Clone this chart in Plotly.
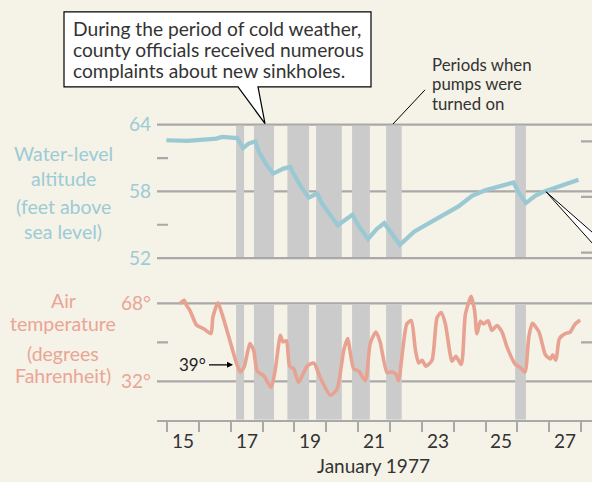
import plotly.graph_objects as go

# ---------------- data ----------------
water_days = [14.98, 15.63, 16.36, 16.55, 16.73, 17.20, 17.39, 17.56, 17.77, 17.88,
              18.09, 18.33, 18.66, 18.87, 18.98, 19.19, 19.45, 19.72, 19.86, 20.08,
              20.36, 20.82, 21.02, 21.31, 21.58, 21.82, 22.31, 22.77, 23.53, 24.15,
              24.58, 24.99, 25.88, 26.04, 26.27, 26.56, 26.85, 27.40, 27.92]
water_level = [62.6, 62.55, 62.7, 62.75, 62.9, 62.8, 61.9, 62.3, 62.5, 61.6,
               60.55, 59.6, 60.05, 60.2, 59.55, 58.5, 57.45, 57.8, 56.95, 56.0,
               54.95, 55.9, 54.9, 53.7, 54.6, 55.15, 53.2, 54.4, 55.6, 56.65,
               57.6, 58.1, 58.8, 57.9, 56.95, 57.6, 58.0, 58.55, 59.05]

temp_days = [15.40, 15.54, 15.61, 15.73, 15.92, 16.15, 16.38, 16.44, 16.60, 16.73,
             16.94, 17.18, 17.30, 17.43, 17.60, 17.72, 17.83, 18.04, 18.27, 18.40,
             18.56, 18.64, 18.75, 18.85, 18.98, 19.13, 19.40, 19.61, 19.81, 20.13,
             20.34, 20.55, 20.67, 20.86, 21.02, 21.23, 21.38, 21.56, 21.69, 21.91,
             22.06, 22.19, 22.27, 22.40, 22.53, 22.67, 22.80, 22.90, 23.01, 23.13,
             23.32, 23.48, 23.61, 23.74, 23.95, 24.07, 24.24, 24.37, 24.55, 24.66,
             24.73, 24.84, 24.94, 25.08, 25.20, 25.36, 25.52, 25.68, 25.94, 26.10,
             26.24, 26.36, 26.47, 26.68, 26.88, 27.04, 27.11, 27.21, 27.32, 27.50,
             27.66, 27.80, 27.97]
air_temp = [67.9, 69.5, 67.2, 64.5, 58.2, 56.3, 54.05, 61.6, 68.3, 63.05,
            52.6, 40.5, 36.4, 39.05, 49.55, 46.5, 36.8, 34.6, 29.3, 37.5,
            53.3, 50.3, 50.75, 39.05, 37.85, 31.55, 39.05, 40.5, 33.8, 25.6,
            28.5, 46.5, 51.8, 37.85, 36.8, 32.3, 49.55, 54.8, 50.3, 36.05,
            36.35, 35.3, 32.3, 46.5, 58.55, 60.05, 46.5, 40.55, 41.75, 39.05,
            41.75, 61.55, 63.8, 58.55, 41.3, 43.55, 39.8, 63.05, 71.3, 64.5,
            54.05, 59.75, 58.55, 60.05, 55.55, 57.8, 54.8, 47.75, 39.8, 38.3,
            36.35, 52.55, 58.85, 54.8, 44.3, 42.35, 44.3, 41.75, 51.8, 54.05,
            54.8, 58.25, 60.35]

pump_start = [17.17, 17.73, 18.78, 19.68, 20.81, 21.88, 25.93]
pump_end = [17.42, 18.36, 19.46, 20.49, 21.37, 22.37, 26.27]

day_ticks = list(range(15, 29))
day_labels = ["15", "17", "19", "21", "23", "25", "27"]
water_ticks = [52, 58, 64]
water_ticktext = ["52", "58", "64"]
water_minor_left = [55, 61]
water_minor_right = [52.5, 57.5, 62.5]
temp_ticks = [32, 68]
temp_ticktext = ["32°", "68°"]
temp_minor_left = [50]
temp_minor_right = [50]

# ---------------- style ----------------
W, H = 592, 482
BG = "#f5f2e7"
BLUE = "#9ac9d3"
BLUE_T = "#9ccbd6"
SALMON = "#e8a292"
SALMON_T = "#eaa596"
GRID = "#a9a9a9"
BAR = "#cbcbcb"
FONT = "Lato, Liberation Sans, sans-serif"
TXT = "#333333"

XR = [14.686, 28.344]
W_RANGE = [51.5, 64.5]
T_RANGE = [14.3, 74.0]


def px(x):
    return x / W


def py(y):
    return 1 - y / H


fig = go.Figure()
fig.add_trace(go.Scatter(x=water_days, y=water_level, xaxis="x", yaxis="y2",
                         mode="lines", line=dict(color=BLUE, width=4.2),
                         hoverinfo="skip", showlegend=False))
fig.add_trace(go.Scatter(x=temp_days, y=air_temp, xaxis="x", yaxis="y",
                         mode="lines", line=dict(color=SALMON, width=3.6, shape="spline", smoothing=0.6),
                         hoverinfo="skip", showlegend=False))

shapes = []
# grid lines
for v in water_ticks:
    shapes.append(dict(type="line", xref="x", yref="y2", x0=XR[0], x1=XR[1], y0=v, y1=v,
                       line=dict(color=GRID, width=2.2), layer="below"))
for v in temp_ticks:
    shapes.append(dict(type="line", xref="x", yref="y", x0=XR[0], x1=XR[1], y0=v, y1=v,
                       line=dict(color=GRID, width=2.2), layer="below"))
# pump bars
for s, e in zip(pump_start, pump_end):
    shapes.append(dict(type="rect", xref="x", yref="y2", x0=s, x1=e, y0=52.09, y1=63.91,
                       fillcolor=BAR, line=dict(width=0), layer="below"))
    shapes.append(dict(type="rect", xref="x", yref="y", x0=s, x1=e, y0=T_RANGE[0], y1=67.55,
                       fillcolor=BAR, line=dict(width=0), layer="below"))
# minor ticks
tick_len = 11 / 31.85
for v in water_minor_left:
    shapes.append(dict(type="line", xref="x", yref="y2", x0=XR[0], x1=XR[0] + tick_len, y0=v, y1=v,
                       line=dict(color=GRID, width=2.2), layer="below"))
for v in water_minor_right:
    shapes.append(dict(type="line", xref="x", yref="y2", x0=XR[1] - tick_len, x1=XR[1], y0=v, y1=v,
                       line=dict(color=GRID, width=2.2), layer="below"))
for v in temp_minor_left:
    shapes.append(dict(type="line", xref="x", yref="y", x0=XR[0], x1=XR[0] + tick_len, y0=v, y1=v,
                       line=dict(color=GRID, width=2.2), layer="below"))
for v in temp_minor_right:
    shapes.append(dict(type="line", xref="x", yref="y", x0=XR[1] - tick_len, x1=XR[1], y0=v, y1=v,
                       line=dict(color=GRID, width=2.2), layer="below"))

# callout box with pointer
pts = [(64, 5), (371, 5), (371, 82), (258, 82), (265, 119.5), (238, 82), (64, 82)]
path = "M" + " L".join(f"{px(a):.5f},{py(b):.5f}" for a, b in pts) + " Z"
shapes.append(dict(type="path", xref="paper", yref="paper", path=path,
                   fillcolor="white", line=dict(color="black", width=1.2), layer="above"))
# leader line for pumps
shapes.append(dict(type="line", xref="paper", yref="paper", x0=px(425), y0=py(85), x1=px(393), y1=py(120),
                   line=dict(color="black", width=1), layer="above"))
# right wedge
wpts = [(546, 189.5), (600, 238), (600, 251)]
wpath = "M" + " L".join(f"{px(a):.5f},{py(b):.5f}" for a, b in wpts) + " Z"
shapes.append(dict(type="path", xref="paper", yref="paper", path=wpath,
                   fillcolor="white", line=dict(color="black", width=1), layer="above"))

annotations = []
# x tick labels
for lab in day_labels:
    annotations.append(dict(x=int(lab) + 0.5, y=py(445), xref="x", yref="paper", text=lab,
                            showarrow=False, font=dict(family=FONT, size=19, color=TXT),
                            xanchor="center", yanchor="middle"))
annotations.append(dict(x=px(373), y=py(470), xref="paper", yref="paper", text="January 1977",
                        showarrow=False, font=dict(family=FONT, size=19, color=TXT),
                        xanchor="center", yanchor="middle"))
# y titles
for txt, yy, col in [("Water-level", 150, BLUE_T), ("altitude", 176, BLUE_T),
                     ("(feet above", 205, BLUE_T), ("sea level)", 230, BLUE_T),
                     ("Air", 301, SALMON_T), ("temperature", 325, SALMON_T),
                     ("(degrees", 355, SALMON_T), ("Fahrenheit)", 378, SALMON_T)]:
    annotations.append(dict(x=px(63), y=py(yy), xref="paper", yref="paper", text=txt,
                            showarrow=False, font=dict(family=FONT, size=19.5, color=col),
                            xanchor="center", yanchor="middle"))
# callout text
for txt, yy in [("During the period of cold weather,", 22),
                ("county officials received numerous", 43.5),
                ("complaints about new sinkholes.", 65)]:
    annotations.append(dict(x=px(71), y=py(yy), xref="paper", yref="paper", text=txt,
                            showarrow=False, font=dict(family=FONT, size=19.2, color=TXT),
                            xanchor="left", yanchor="middle"))
for txt, yy in [("Periods when", 58.5), ("pumps were", 78.5), ("turned on", 98.5)]:
    annotations.append(dict(x=px(430), y=py(yy), xref="paper", yref="paper", text=txt,
                            showarrow=False, font=dict(family=FONT, size=16.8, color=TXT),
                            xanchor="left", yanchor="middle"))
# 39 degree arrow
annotations.append(dict(x=px(233), y=py(367), xref="paper", yref="paper", text="39°",
                        showarrow=True, ax=-41, ay=0, arrowhead=2, arrowsize=1, arrowwidth=1.2,
                        arrowcolor="black", standoff=0, startstandoff=2,
                        font=dict(family=FONT, size=17, color="#222222")))

fig.update_layout(
    width=W, height=H, autosize=False,
    margin=dict(l=0, r=0, t=0, b=0),
    paper_bgcolor=BG, plot_bgcolor=BG,
    showlegend=False,
    xaxis=dict(domain=[px(157), 1], range=XR, anchor="y",
               showgrid=False, zeroline=False,
               showline=True, linecolor=GRID, linewidth=2.2,
               tickmode="array", tickvals=day_ticks, ticktext=[""] * len(day_ticks),
               ticks="outside", ticklen=10, tickwidth=2.2, tickcolor=GRID),
    yaxis=dict(domain=[py(423.3), py(290.7)], range=T_RANGE, anchor="x",
               showgrid=False, zeroline=False, showline=False,
               tickmode="array", tickvals=temp_ticks, ticktext=temp_ticktext,
               ticks="", ticklabelstandoff=5,
               tickfont=dict(family=FONT, size=19, color=SALMON_T)),
    yaxis2=dict(domain=[py(263.2), py(115.0)], range=W_RANGE, anchor="x",
                showgrid=False, zeroline=False, showline=False,
                tickmode="array", tickvals=water_ticks, ticktext=water_ticktext,
                ticks="", ticklabelstandoff=5,
                tickfont=dict(family=FONT, size=19, color=BLUE_T)),
    shapes=shapes,
    annotations=annotations,
)

fig.write_html("out.html", config={"displayModeBar": False},
               post_script="document.body.style.margin='0';document.body.style.padding='0';")
